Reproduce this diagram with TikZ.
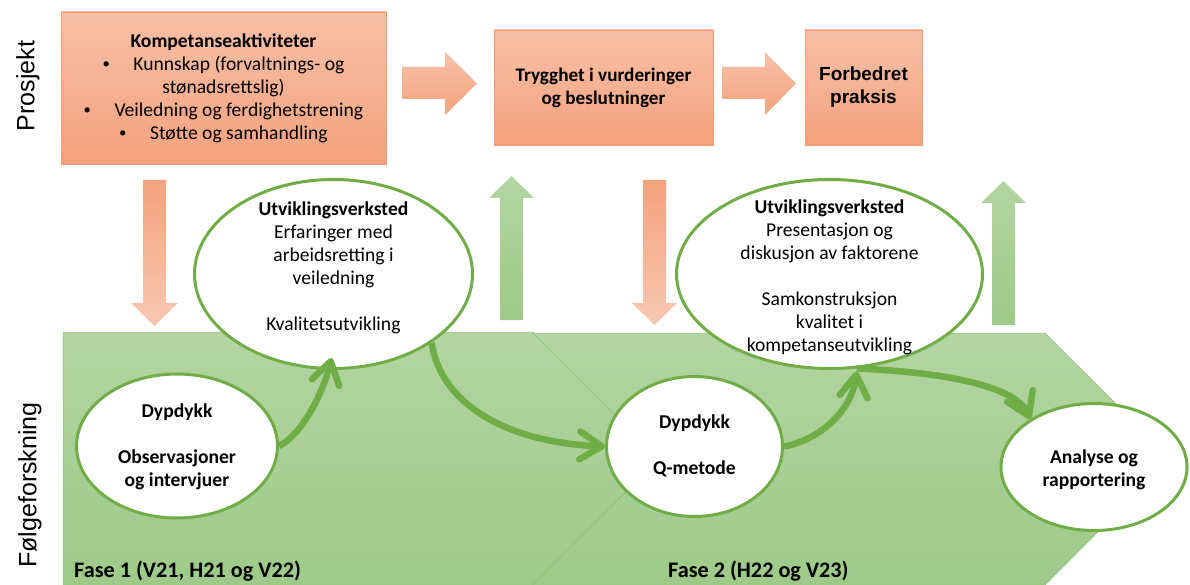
\documentclass[tikz,border=0pt]{standalone}
\usepackage{fontspec}
\setmainfont{Carlito}
\newfontfamily\arialf{Liberation Sans}
\usetikzlibrary{arrows.meta,shapes.geometric,calc}
\definecolor{grn}{HTML}{70AD47}
\definecolor{orT}{HTML}{F7C0A7}
\definecolor{orB}{HTML}{F4A27D}
\definecolor{orL}{HTML}{F8C8B2}
\definecolor{orEdge}{HTML}{F39B6F}
\definecolor{gT}{HTML}{B4D5A2}
\definecolor{gB}{HTML}{9DCA89}
\definecolor{gEdge}{HTML}{8DC077}
\newcommand{\bul}{\raisebox{0.15ex}{\scalebox{0.75}{\textbullet}}\hspace{1.2em}}
\begin{document}
\begin{tikzpicture}[x=1pt,y=-1pt,
  txt/.style={font=\fontsize{19.6}{23}\selectfont, align=center, inner sep=0pt},
  btxt/.style={font=\fontsize{19.6}{23}\selectfont\bfseries, align=center, inner sep=0pt},
  phlabel/.style={font=\fontsize{22.2}{26}\selectfont\bfseries, inner sep=0pt, anchor=west},
  side/.style={rotate=90, font=\arialf\fontsize{25}{30}\selectfont, inner sep=0pt},
  oval/.style={ellipse, draw=grn, line width=3pt, fill=white, inner sep=0pt},
  orbox/.style={draw=orEdge, line width=0.8pt, top color=orT, bottom color=orB, inner sep=0pt, align=center},
  phase/.style={top color=gT, bottom color=gB, draw=gEdge, line width=0.5pt},
  orarrow/.style={top color=orT, bottom color=orB},
  ordown/.style={top color=orB, bottom color=orL},
  grup/.style={top color=gT, bottom color=gB},
  flow/.style={draw=grn, line width=6.5pt, -{Straight Barb[length=22pt,width=28pt,round]}},
]
\useasboundingbox (0,0) rectangle (1190,585);

% phases
\shadedraw[phase] (63,332) -- (533,332) -- (659,458.5) -- (533,585) -- (63,585) -- cycle;
\shadedraw[phase] (533,333) -- (1045,333) -- (1171,458.5) -- (1045,585) -- (533,585) -- (659,458.5) -- cycle;

% block arrows
\shade[orarrow] (402,67) -- (445,67) -- (445,52) -- (477,83.5) -- (445,115) -- (445,99) -- (402,99) -- cycle;
\shade[orarrow] (722,67) -- (765,67) -- (765,52) -- (796,83.5) -- (765,115) -- (765,99) -- (722,99) -- cycle;
\shade[ordown] (143,180) -- (166,180) -- (166,303) -- (178,303) -- (154.5,326) -- (131,303) -- (143,303) -- cycle;
\shade[ordown] (643,180) -- (666,180) -- (666,303) -- (677,303) -- (654.5,325) -- (632,303) -- (643,303) -- cycle;
\shade[grup] (500,320) -- (523,320) -- (523,198) -- (534,198) -- (511.5,176) -- (489,198) -- (500,198) -- cycle;
\shade[grup] (992,325) -- (1015,325) -- (1015,203) -- (1026,203) -- (1003.5,181) -- (981,203) -- (992,203) -- cycle;

% project boxes
\node[orbox, minimum width=325pt, minimum height=152pt, font=\fontsize{19.6}{23}\selectfont] (b1) at (223.5,88)
  {{\bfseries Kompetanseaktiviteter}\\
   \bul Kunnskap (forvaltnings- og\\
   stønadsrettslig)\\
   \bul Veiledning og ferdighetstrening\\
   \bul Støtte og samhandling};
\node[orbox, minimum width=219pt, minimum height=115pt, font=\fontsize{19.2}{23}\selectfont\bfseries] (b2) at (603.5,87.5)
  {Trygghet i vurderinger\\og beslutninger};
\node[orbox, minimum width=117pt, minimum height=115pt, font=\arialf\bfseries\fontsize{19}{23}\selectfont] (b3) at (863.5,87.5)
  {Forbedret\\praksis};

% side labels
\node[side] (lp) at (28,86) {Prosjekt};
\node[side] (lf) at (30,485) {Følgeforskning};

% ellipses
\node[oval, minimum width=278pt, minimum height=189pt] (e1) at (333.5,274) {};
\node[oval, minimum width=201pt, minimum height=144pt] (e2) at (177,446) {};
\node[oval, minimum width=176pt, minimum height=140pt] (e3) at (694.5,446.5) {};
\node[oval, minimum width=306pt, minimum height=189pt] (e4) at (829.5,274) {};
\node[oval, minimum width=186pt, minimum height=127pt] (e5) at (1094,467) {};

\node[txt] (t1) at (333.5,268) {{\bfseries Utviklingsverksted}\\Erfaringer med\\arbeidsretting i\\veiledning\\[23pt]Kvalitetsutvikling};
\node[btxt] (t2) at (177,447) {Dypdykk\\[23pt]Observasjoner\\og intervjuer};
\node[btxt] (t3) at (694.5,446) {Dypdykk\\[23pt]Q-metode};
\node[txt] (t4) at (829.5,277) {{\bfseries Utviklingsverksted}\\Presentasjon og\\diskusjon av faktorene\\[23pt]Samkonstruksjon\\kvalitet i\\kompetanseutvikling};
\node[btxt] (t5) at (1094,470) {Analyse og\\rapportering};

% flow arrows
\draw[flow] (e2.east) .. controls (300,436) and (322,397) .. ($(e1.south)+(-2,-12)$);
\draw[flow] (e1.-35) .. controls (440,400) and (500,442) .. (e3.west);
\draw[flow] (e3.east) .. controls (820,440) and (852,410) .. ($(e4.-74)+(0,3)$);
\draw[flow] (e4.-74) .. controls (940,372) and (1015,385) .. (e5.143);

% phase labels
\node[phlabel] (f1) at (74,571) {Fase 1 (V21, H21 og V22)};
\node[phlabel] (f2) at (668,571) {Fase 2 (H22 og V23)};
\end{tikzpicture}
\end{document}
